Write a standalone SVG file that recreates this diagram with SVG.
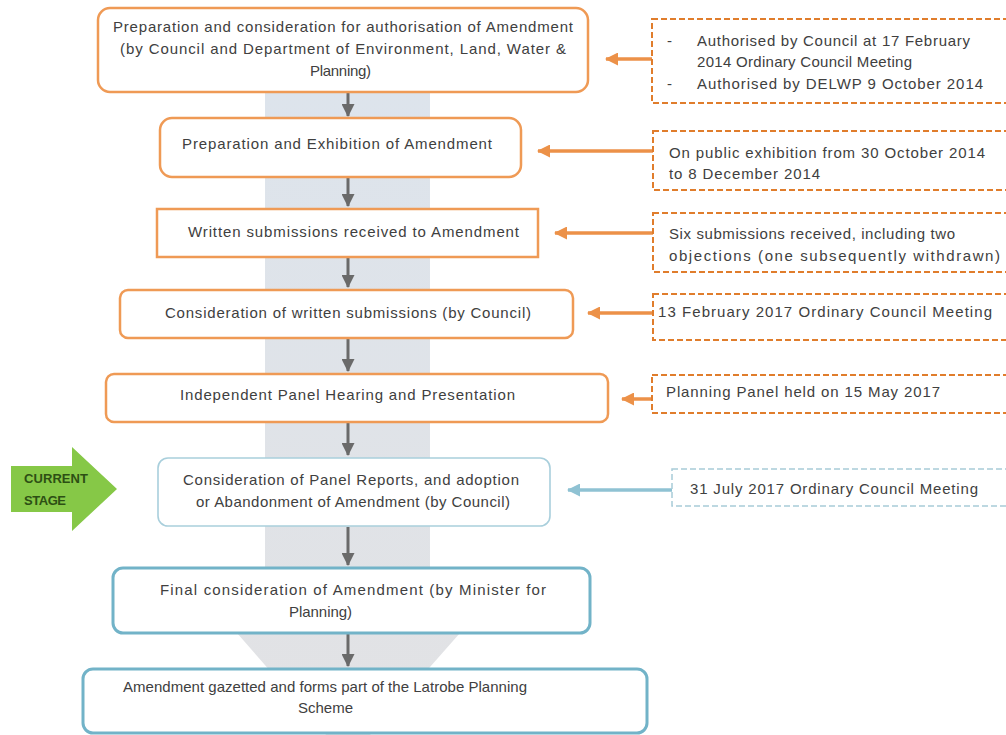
<svg xmlns="http://www.w3.org/2000/svg" width="1006" height="735" viewBox="0 0 1006 735">
<defs>
<linearGradient id="bg" x1="0" y1="0" x2="0" y2="1">
<stop offset="0" stop-color="#dde4ec"/>
<stop offset="1" stop-color="#e2e2e4"/>
</linearGradient>
<marker id="ho" markerUnits="userSpaceOnUse" markerWidth="13" markerHeight="13" refX="12" refY="6.5" orient="auto">
<path d="M0,0 L13,6.5 L0,13 z" fill="#ec9148"/>
</marker>
<marker id="hb" markerUnits="userSpaceOnUse" markerWidth="13" markerHeight="13" refX="12" refY="6.5" orient="auto">
<path d="M0,0 L13,6.5 L0,13 z" fill="#8fc2d3"/>
</marker>
<marker id="hg" markerUnits="userSpaceOnUse" markerWidth="13" markerHeight="13" refX="12" refY="6.5" orient="auto">
<path d="M0,0 L13,6.5 L0,13 z" fill="#6a6a6a"/>
</marker>
<style>
.t{font-family:"Liberation Sans",Arial,sans-serif;font-size:15px;fill:#404040}
.no{fill:#ffffff;stroke:#ef9a55;stroke-width:2.5}
.nb{fill:#ffffff;stroke:#72b3c8;stroke-width:3}
.nbl{fill:#ffffff;stroke:#a9cfdc;stroke-width:1.6}
.bo{fill:#ffffff;stroke:#e07d2c;stroke-width:2;stroke-dasharray:6 3}
.bb{fill:#ffffff;stroke:#a8cbd8;stroke-width:1.5;stroke-dasharray:6 3}
.ao{stroke:#ec9148;stroke-width:3.5;fill:none;marker-end:url(#ho)}
.ab{stroke:#8fc2d3;stroke-width:3.5;fill:none;marker-end:url(#hb)}
.ag{stroke:#6a6a6a;stroke-width:3;fill:none;marker-end:url(#hg)}
.cs{font-family:"Liberation Sans",Arial,sans-serif;font-size:13px;font-weight:bold;fill:#2d4f14}
</style>
</defs>
<rect width="1006" height="735" fill="#ffffff"/>
<polygon id="backbone" points="265,92 430,92 430,633 460,633 348,760 237,633 265,633" fill="url(#bg)"/>

<g id="connectors">
<line class="ag" x1="348" y1="93" x2="348" y2="116"/>
<line class="ag" x1="348" y1="178" x2="348" y2="206"/>
<line class="ag" x1="348" y1="258" x2="348" y2="287"/>
<line class="ag" x1="348" y1="339" x2="348" y2="371"/>
<line class="ag" x1="348" y1="423" x2="348" y2="455"/>
<line class="ag" x1="348" y1="527" x2="348" y2="565"/>
<line class="ag" x1="348" y1="634" x2="348" y2="666"/>
<line class="ao" x1="653" y1="59" x2="606" y2="59"/>
<line class="ao" x1="654" y1="151" x2="538" y2="151"/>
<line class="ao" x1="654" y1="233" x2="555" y2="233"/>
<line class="ao" x1="654" y1="313" x2="588" y2="313"/>
<line class="ao" x1="653" y1="399" x2="622" y2="399"/>
<line class="ab" x1="673" y1="490" x2="568" y2="490"/>
</g>

<g id="n1"><rect class="no" x="98" y="8" width="490" height="84" rx="12"/>
<text class="t" x="113" y="32" textLength="460">Preparation and consideration for authorisation of Amendment</text>
<text class="t" x="120" y="54" textLength="446">(by Council and Department of Environment, Land, Water &amp;</text>
<text class="t" x="310" y="76" textLength="61">Planning)</text></g>

<g id="n2"><rect class="no" x="160" y="118" width="361" height="59" rx="12"/>
<text class="t" x="182" y="149" textLength="310">Preparation and Exhibition of Amendment</text></g>

<g id="n3"><rect class="no" x="157" y="209" width="381" height="48" stroke="#e8782a"/>
<text class="t" x="188" y="237" textLength="331">Written submissions received to Amendment</text></g>

<g id="n4"><rect class="no" x="120" y="290" width="453" height="48" rx="8"/>
<text class="t" x="165" y="318" textLength="366">Consideration of written submissions (by Council)</text></g>

<g id="n5"><rect class="no" x="106" y="374" width="502" height="48" rx="8"/>
<text class="t" x="180" y="400" textLength="335">Independent Panel Hearing and Presentation</text></g>

<g id="n6"><rect class="nbl" x="158" y="458" width="392" height="68" rx="10"/>
<text class="t" x="183" y="485" textLength="336">Consideration of Panel Reports, and adoption</text>
<text class="t" x="196" y="507" textLength="314">or Abandonment of Amendment (by Council)</text></g>

<g id="n7"><rect class="nb" x="113" y="568" width="477" height="65" rx="10"/>
<text class="t" x="160" y="595" textLength="386">Final consideration of Amendment (by Minister for</text>
<text class="t" x="289" y="617" textLength="63">Planning)</text></g>

<g id="n8"><rect class="nb" x="83" y="669" width="564" height="64" rx="10"/>
<text class="t" x="123" y="692" textLength="404">Amendment gazetted and forms part of the Latrobe Planning</text>
<text class="t" x="298" y="713" textLength="55">Scheme</text></g>

<g id="b1"><rect class="bo" x="652" y="19" width="362" height="84"/>
<text class="t" x="667" y="46">-</text>
<text class="t" x="697" y="46" textLength="273">Authorised by Council at 17 February</text>
<text class="t" x="697" y="67" textLength="215">2014 Ordinary Council Meeting</text>
<text class="t" x="667" y="89">-</text>
<text class="t" x="697" y="89" textLength="286">Authorised by DELWP 9 October 2014</text></g>

<g id="b2"><rect class="bo" x="653" y="131" width="361" height="59"/>
<text class="t" x="669" y="158" textLength="316">On public exhibition from 30 October 2014</text>
<text class="t" x="669" y="179" textLength="151">to 8 December 2014</text></g>

<g id="b3"><rect class="bo" x="653" y="213" width="361" height="59"/>
<text class="t" x="669" y="239" textLength="286">Six submissions received, including two</text>
<text class="t" x="669" y="261" textLength="331">objections (one subsequently withdrawn)</text></g>

<g id="b4"><rect class="bo" x="653" y="294" width="361" height="46"/>
<text class="t" x="658" y="317" textLength="334">13 February 2017 Ordinary Council Meeting</text></g>

<g id="b5"><rect class="bo" x="652" y="375" width="362" height="38"/>
<text class="t" x="666" y="397" textLength="274">Planning Panel held on 15 May 2017</text></g>

<g id="b6"><rect class="bb" x="672" y="469" width="342" height="37"/>
<text class="t" x="690" y="494" textLength="288">31 July 2017 Ordinary Council Meeting</text></g>

<g id="current-stage">
<polygon points="11,466 72,466 72,447 117,489 72,531 72,512 11,512" fill="#86c847"/>
<text class="cs" x="24" y="483" textLength="64">CURRENT</text>
<text class="cs" x="24" y="505" textLength="42">STAGE</text>
</g>
</svg>
